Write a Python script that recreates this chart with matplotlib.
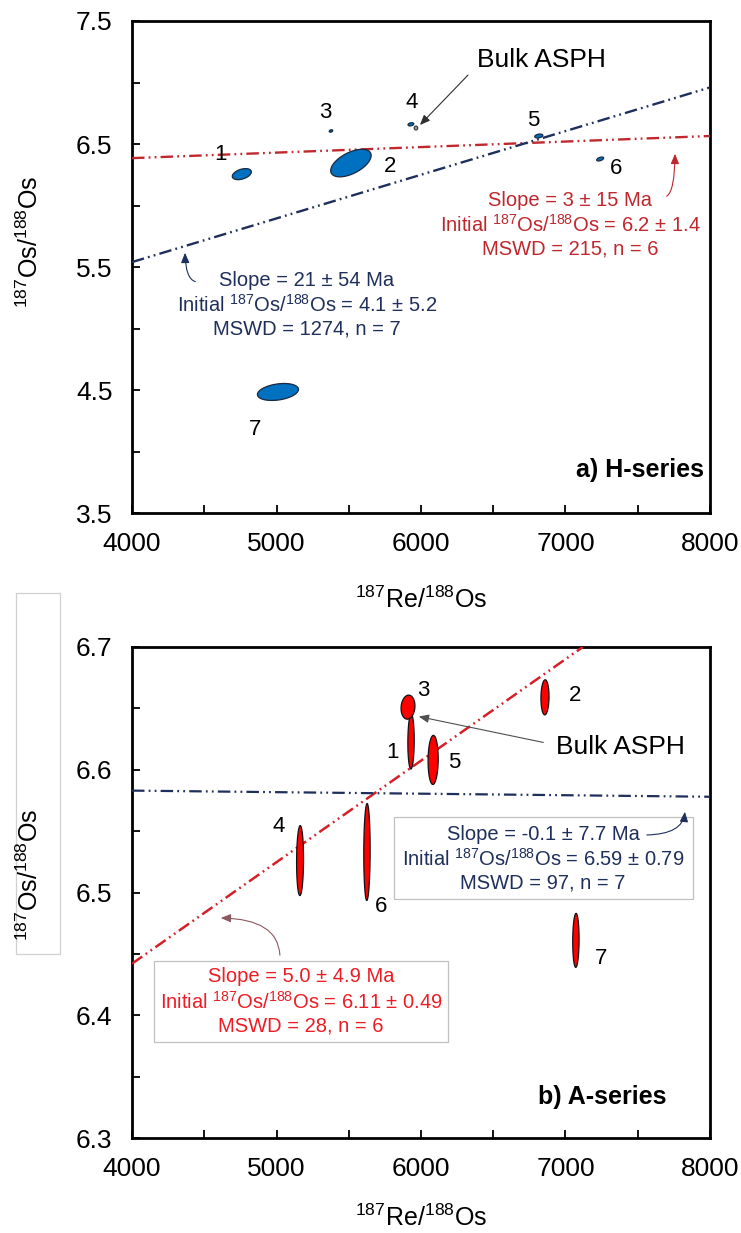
import matplotlib
matplotlib.use('Agg')
import matplotlib.pyplot as plt
import numpy as np
from matplotlib.patches import Rectangle

plt.rcParams['font.family'] = ['Liberation Sans', 'DejaVu Sans']
plt.rcParams['mathtext.default'] = 'regular'
plt.rcParams['lines.scale_dashes'] = False

# ---- data ----
# a) H-series : centre x, centre y, half width x, half height y, correlation
h_x = [4760, 5515, 5377, 5930, 6815, 7240, 5010]
h_y = [6.255, 6.345, 6.606, 6.660, 6.565, 6.378, 4.484]
h_sx = [66, 140, 12, 20, 28, 24, 142]
h_sy = [0.045, 0.112, 0.010, 0.013, 0.016, 0.016, 0.069]
h_rho = [0.4, 0.55, 0.3, 0.3, 0.3, 0.5, 0.3]
h_lab = ['1', '2', '3', '4', '5', '6', '7']
h_bulk = [5965, 6.630, 12, 0.016, 0.0]

h_red_x = [4000, 8000]
h_red_y = [6.385, 6.565]
h_blue_x = [4000, 8000]
h_blue_y = [5.54, 6.96]

# b) A-series
a_x = [5931, 6858, 5910, 5163, 6084, 5626, 7072]
a_y = [6.623, 6.659, 6.651, 6.526, 6.608, 6.533, 6.461]
a_sx = [22, 28, 48, 24, 35, 22, 22]
a_sy = [0.0224, 0.0143, 0.0098, 0.0285, 0.0200, 0.0395, 0.0220]
a_rho = [0.05, 0.05, 0.1, 0.05, 0.05, 0.05, 0.05]
a_lab = ['1', '2', '3', '4', '5', '6', '7']

a_red_x = [4000, 7120]
a_red_y = [6.442, 6.700]
a_blue_x = [4000, 8000]
a_blue_y = [6.583, 6.578]

W, H = 741, 1233
fig = plt.figure(figsize=(W / 100, H / 100), dpi=100)


def fx(px):
    return px / W


def fy(py):
    return 1 - py / H


def P(px, py):
    return (fx(px), fy(py))


def ell(ax, cx, cy, sx, sy, rho, fc, ec):
    t = np.linspace(0, 2 * np.pi, 120)
    x = cx + sx * np.cos(t)
    y = cy + sy * (rho * np.cos(t) + np.sqrt(1 - rho ** 2) * np.sin(t))
    ax.fill(x, y, facecolor=fc, edgecolor=ec, lw=0.9, zorder=4)


def style(ax, ylim, ylab, yminor):
    ax.set_xlim(4000, 8000)
    ax.set_ylim(*ylim)
    ax.set_xticks(np.arange(4000, 8001, 1000))
    ax.set_xticks(np.arange(4500, 8000, 1000), minor=True)
    ax.set_yticks(ylab)
    ax.set_yticks(yminor, minor=True)
    ax.tick_params(which='both', direction='in', length=6, width=1.3,
                   labelsize=19, pad=14, top=False, right=False)
    for s in ax.spines.values():
        s.set_linewidth(2.0)


def arrow(ax, tip, start, color, conn=None):
    props = dict(arrowstyle='-|>,head_length=0.6,head_width=0.25',
                 color=color, lw=0.8, mutation_scale=10)
    if conn:
        props['connectionstyle'] = conn
    ax.annotate('', xy=P(*tip), xycoords='figure fraction',
                xytext=P(*start), textcoords='figure fraction',
                arrowprops=props, zorder=7)


dash = (9, 3, 1.3, 3, 1.3, 3)
navy = '#1f2f5c'

# ---------------- top panel ----------------
ax1 = fig.add_axes([fx(132), fy(513), (710 - 132) / W, (513 - 21) / H])
style(ax1, (3.5, 7.5), [3.5, 4.5, 5.5, 6.5, 7.5], [4.0, 5.0, 6.0, 7.0])
ax1.yaxis.set_major_formatter(matplotlib.ticker.FormatStrFormatter('%.1f'))

l, = ax1.plot(h_red_x, h_red_y, color='#c0282e', lw=1.7, zorder=3)
l.set_dashes(dash)
l, = ax1.plot(h_blue_x, h_blue_y, color=navy, lw=1.7, zorder=3)
l.set_dashes(dash)

for i in range(len(h_x)):
    ell(ax1, h_x[i], h_y[i], h_sx[i], h_sy[i], h_rho[i], '#0070c0', '#1b2a3f')
ell(ax1, *h_bulk, '#a0a0a0', '#404040')

h_lab_pos = [(220, 154), (390, 167), (325, 113), (412, 102), (533, 120), (616, 169), (255, 430)]
for t, (px, py) in zip(h_lab, h_lab_pos):
    fig.text(*P(px, py), t, fontsize=16, ha='center', va='center')

fig.text(*P(541, 60), 'Bulk ASPH', fontsize=19, ha='center', va='center')
arrow(ax1, (418, 127), (470, 73), '#303030')

red_t = '#c0272d'
for s, py in zip(['Slope = 3 ± 15 Ma',
                  'Initial $^{187}$Os/$^{188}$Os = 6.2 ± 1.4',
                  'MSWD = 215, n = 6'], [200, 225, 249]):
    fig.text(*P(570, py), s, fontsize=14.5, color=red_t, ha='center', va='center')
arrow(ax1, (675, 151), (664, 197), red_t, 'angle3,angleA=0,angleB=90')

for s, py in zip(['Slope = 21 ± 54 Ma',
                  'Initial $^{187}$Os/$^{188}$Os = 4.1 ± 5.2',
                  'MSWD = 1274, n = 7'], [280, 305, 329]):
    fig.text(*P(307, py), s, fontsize=14.5, color=navy, ha='center', va='center')
arrow(ax1, (185, 250), (198, 282), navy, 'angle3,angleA=0,angleB=90')

fig.text(*P(640, 470), 'a) H-series', fontsize=18, fontweight='bold',
         ha='center', va='center')
fig.text(*P(421, 600), '$^{187}$Re/$^{188}$Os', fontsize=18, ha='center', va='center')
fig.text(*P(30, 242), '$^{187}$Os/$^{188}$Os', fontsize=18, rotation=90,
         ha='center', va='center')

# ---------------- bottom panel ----------------
ax2 = fig.add_axes([fx(132), fy(1138), (710 - 132) / W, (1138 - 647) / H])
style(ax2, (6.3, 6.7), [6.3, 6.4, 6.5, 6.6, 6.7], [6.35, 6.45, 6.55, 6.65])
ax2.yaxis.set_major_formatter(matplotlib.ticker.FormatStrFormatter('%.1f'))

l, = ax2.plot(a_red_x, a_red_y, color='#d42026', lw=1.8, zorder=3)
l.set_dashes(dash)
l, = ax2.plot(a_blue_x, a_blue_y, color=navy, lw=1.6, zorder=3)
l.set_dashes(dash)

for i in range(len(a_x)):
    ell(ax2, a_x[i], a_y[i], a_sx[i], a_sy[i], a_rho[i], '#ff0000', '#111111')

a_lab_pos = [(392, 752), (575, 695), (423, 690), (279, 827), (454, 763), (381, 907), (601, 959)]
for t, (px, py) in zip(a_lab, a_lab_pos):
    fig.text(*P(px, py), t, fontsize=16, ha='center', va='center')

fig.text(*P(620, 747), 'Bulk ASPH', fontsize=19, ha='center', va='center')
arrow(ax2, (416, 716), (546, 743), '#505050')

# text boxes (inside the axes so arrows can sit on top)
for x0, y0, x1, y1 in [(394, 817, 693, 899), (154, 961, 448, 1042)]:
    ax2.add_patch(Rectangle(P(x0, y1), (x1 - x0) / W, (y1 - y0) / H,
                            transform=fig.transFigure, facecolor='white',
                            edgecolor='#c0c0c0', lw=0.9, zorder=5, clip_on=False))
fig.add_artist(Rectangle(P(16, 954), (60 - 16) / W, (954 - 593) / H,
                         transform=fig.transFigure, facecolor='none',
                         edgecolor='#d0d0d0', lw=0.9))

for s, py in zip(['Slope = -0.1 ± 7.7 Ma',
                  'Initial $^{187}$Os/$^{188}$Os = 6.59 ± 0.79',
                  'MSWD = 97, n = 7'], [835, 859, 883]):
    fig.text(*P(543, py), s, fontsize=14.5, color=navy, ha='center', va='center')
arrow(ax2, (685, 809), (644, 835), navy, 'angle3,angleA=0,angleB=90')

red_b = '#ee1c24'
for s, py in zip(['Slope = 5.0 ± 4.9 Ma',
                  'Initial $^{187}$Os/$^{188}$Os = 6.11 ± 0.49',
                  'MSWD = 28, n = 6'], [977, 1002, 1026]):
    fig.text(*P(301, py), s, fontsize=14.5, color=red_b, ha='center', va='center')
arrow(ax2, (218, 918), (280, 958), '#8a5a60', 'angle3,angleA=90,angleB=0')

fig.text(*P(602, 1097), 'b) A-series', fontsize=18, fontweight='bold',
         ha='center', va='center')
fig.text(*P(421, 1218), '$^{187}$Re/$^{188}$Os', fontsize=18, ha='center', va='center')
fig.text(*P(30, 875), '$^{187}$Os/$^{188}$Os', fontsize=18, rotation=90,
         ha='center', va='center')

fig.savefig('out.png', dpi=100, facecolor='white')
